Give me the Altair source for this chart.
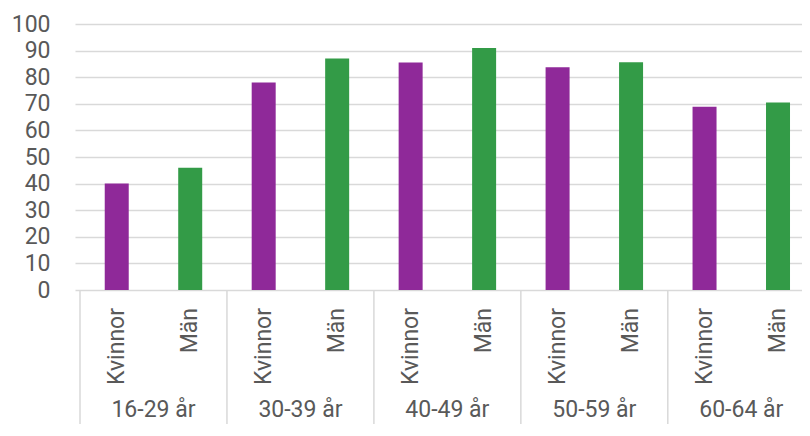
import altair as alt
import pandas as pd

groups = ["16-29 år", "30-39 år", "40-49 år", "50-59 år", "60-64 år"]
sexes = ["Kvinnor", "Män"]
kvinnor = [40, 78, 85.5, 83.7, 68.9]
man = [46, 87, 91, 85.6, 70.5]
y_ticks = [0, 10, 20, 30, 40, 50, 60, 70, 80, 90, 100]

PURPLE = "#8F2999"
GREEN = "#339B47"
GRID = "#D9D9D9"
TEXT = "#595959"
FONT = "Roboto"

rows = []
for gi, g in enumerate(groups):
    for si, (s, vals) in enumerate(zip(sexes, [kvinnor, man])):
        rows.append({"group": g, "sex": s, "value": vals[gi], "pos": 2 * gi + si + 0.5})
df = pd.DataFrame(rows)

grp = pd.DataFrame({"group": groups, "center": [2 * i + 1 for i in range(len(groups))],
                    "left": [2 * i for i in range(len(groups))]})

# one half-group band = 74.5 px; plot area 727 px wide
xscale = alt.Scale(domain=[0, 727 / 74.5], nice=False, zero=False)

bars = alt.Chart(df).mark_bar(size=24).encode(
    x=alt.X("pos:Q", scale=xscale, axis=None),
    y=alt.Y("value:Q", scale=alt.Scale(domain=[0, 100], nice=False),
            axis=alt.Axis(values=y_ticks, title=None, grid=True, gridColor=GRID,
                          gridWidth=1.5, domain=False, ticks=False,
                          labelFontSize=23, labelColor=TEXT, labelFont=FONT,
                          labelPadding=25)),
    color=alt.Color("sex:N", scale=alt.Scale(domain=sexes, range=[PURPLE, GREEN]), legend=None),
)

seps = alt.Chart(grp).mark_rule(color=GRID, strokeWidth=1.5).encode(
    x=alt.X("left:Q", scale=xscale, axis=None),
    y=alt.value(266),
    y2=alt.value(402),
)

sub_labels = alt.Chart(df).mark_text(
    angle=270, align="right", baseline="middle", fontSize=23, font=FONT, color=TEXT
).encode(
    x=alt.X("pos:Q", scale=xscale, axis=None),
    y=alt.value(284),
    text="sex:N",
)

grp_labels = alt.Chart(grp).mark_text(
    align="center", baseline="alphabetic", fontSize=23, font=FONT, color=TEXT
).encode(
    x=alt.X("center:Q", scale=xscale, axis=None),
    y=alt.value(393),
    text="group:N",
)

chart = alt.layer(bars, seps, sub_labels, grp_labels).properties(
    width=727, height=266,
    autosize=alt.AutoSizeParams(type="none"),
    padding={"left": 67, "top": 16, "right": 0, "bottom": 134},
).configure_view(stroke=None)

chart.save("out.html", embed_options={"renderer": "svg", "actions": False})
